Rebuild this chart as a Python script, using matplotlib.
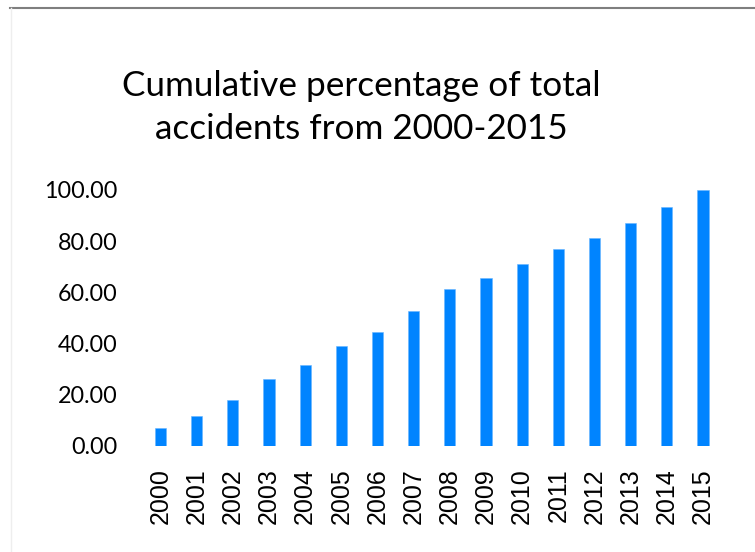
import matplotlib.pyplot as plt
from matplotlib.lines import Line2D

# datos
years = [str(y) for y in range(2000, 2016)]
cum_pct = [6.8, 11.4, 17.8, 26.1, 31.6, 39.0, 44.5, 52.7,
           61.3, 65.7, 71.2, 76.8, 81.3, 86.9, 93.4, 100.0]
yticks = [0, 20, 40, 60, 80, 100]
title = "Cumulative percentage of total\naccidents from 2000-2015"

fig = plt.figure(figsize=(7.55, 5.52), dpi=100)
ax = fig.add_axes([0.1886, 0.1929, 0.7664, 0.4629])

x = list(range(len(years)))
ax.bar(x, cum_pct, width=0.31, color='#0084FF', edgecolor='#66B5FF', linewidth=0.4)

ax.set_xlim(-0.5, len(years) - 0.5)
ax.set_ylim(0, 100)
ax.set_xticks(x)
ax.set_xticklabels(years, rotation=90, fontsize=18, family='Liberation Sans')
ax.set_yticks(yticks)
ax.set_yticklabels([f"{v:.2f}" for v in yticks], fontsize=16.8, family='Lato')
ax.tick_params(axis='x', length=0, pad=16.5)
ax.tick_params(axis='y', length=0, pad=18)
for s in ax.spines.values():
    s.set_visible(False)

# titulo en dos lineas
fig.text(361 / 755, 0.805, title, ha='center', va='center', fontsize=25.3,
         family='Lato', linespacing=1.45)

# marco del area del grafico (linea gris arriba, linea clara a la izquierda)
fig.add_artist(Line2D([10 / 755, 1], [1 - 8 / 552, 1 - 8 / 552], color='#7F7F7F', linewidth=1.5))
fig.add_artist(Line2D([10.5 / 755, 10.5 / 755], [0, 1 - 8 / 552], color='#EEEEEE', linewidth=1))

fig.savefig('out.png', dpi=100)
